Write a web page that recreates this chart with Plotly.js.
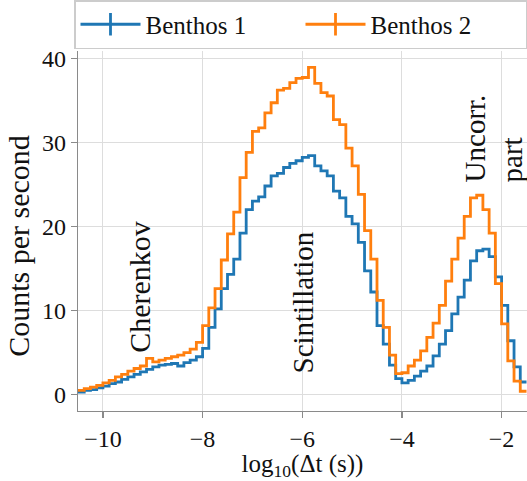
<!DOCTYPE html>
<html>
<head>
<meta charset="utf-8">
<script src="https://cdn.plot.ly/plotly-3.0.1.min.js"></script>
<style>
  html, body { margin: 0; padding: 0; background: #ffffff; }
  #chart { width: 527px; height: 481px; }
</style>
</head>
<body>
<div id="chart"></div>
<script>
// Histogram binning: 72 bins of width 0.125 in log10(Δt) starting at -10.5
const binStart = -10.5;
const binWidth = 0.125;

// Counts per second per bin
const benthos1 = [0.3,0.5,0.6,0.8,1.0,1.3,1.5,1.8,2.1,2.4,2.7,3.0,3.3,3.5,3.6,3.7,3.4,3.8,4.1,4.5,5.5,
  8.0,10.2,12.6,14.3,16.1,19.2,22.0,23.0,23.5,24.8,26.0,26.3,27.0,27.5,27.8,28.2,28.4,
  27.2,26.6,26.0,24.2,23.4,21.2,20.3,18.1,14.7,12.2,8.2,6.0,3.5,1.9,1.4,
  1.7,2.2,2.8,3.4,4.6,6.0,7.6,9.6,11.6,13.6,15.9,17.1,17.3,16.4,14.0,10.6,6.4,3.3,1.5];
const benthos2 = [0.5,0.7,0.9,1.1,1.4,1.7,2.1,2.4,2.8,3.1,3.4,4.3,3.9,4.1,4.3,4.5,4.7,5.0,
  5.4,6.2,8.2,10.3,12.6,16.0,19.1,21.7,25.8,28.8,31.3,31.7,33.5,34.7,36.2,36.4,37.1,37.6,37.7,38.9,
  37.0,35.9,35.5,32.7,32.1,29.3,27.2,23.8,19.5,16.1,11.2,8.0,4.7,2.5,2.6,
  3.4,4.1,5.2,6.8,8.5,10.6,13.5,16.1,18.6,21.2,23.4,23.7,22.0,19.2,13.2,8.4,4.0,1.6,0.4];

const seriesNames = ['Benthos 1', 'Benthos 2'];
const seriesColors = ['#1f77b4', '#ff7f0e'];
const xTicks = [-10, -8, -6, -4, -2];
const yTicks = [0, 10, 20, 30, 40];
const xTitle = 'log<sub>10</sub>(Δt (s))';
const yTitle = 'Counts per second';

// bin edges; last value repeated so the final step is drawn to the right edge
function edges(n) { const e = []; for (let i = 0; i <= n; i++) e.push(binStart + i * binWidth); return e; }
function stepY(v) { return v.concat([v[v.length - 1]]); }

const font = 'Liberation Serif';
const traces = [];
[benthos1, benthos2].forEach((vals, k) => {
  traces.push({
    x: edges(vals.length), y: stepY(vals), type: 'scatter', mode: 'lines',
    line: {shape: 'hv', color: seriesColors[k], width: 2.8},
    showlegend: false, hoverinfo: 'skip'
  });
});
// legend entries (errorbar-style symbol)
seriesNames.forEach((name, k) => {
  traces.push({
    x: [null], y: [null], type: 'scatter', mode: 'lines+markers', name: name,
    line: {color: seriesColors[k], width: 2.8},
    marker: {symbol: 'line-ns-open', size: 18, line: {color: seriesColors[k], width: 2.8}}
  });
});

const axisCommon = {
  showgrid: true, gridcolor: '#dddddd', gridwidth: 1,
  showline: true, linecolor: '#8a8a8a', linewidth: 1.2,
  ticks: 'outside', ticklen: 6, tickwidth: 1.2, tickcolor: '#8a8a8a',
  tickfont: {family: font, size: 24, color: '#111'},
  zeroline: false
};

const layout = {
  width: 527, height: 481,
  margin: {l: 78, r: 0, t: 50, b: 70},
  paper_bgcolor: '#ffffff', plot_bgcolor: '#ffffff',
  showlegend: true,
  xaxis: Object.assign({}, axisCommon, {
    range: [-10.5, -1.49], tickvals: xTicks,
    title: {text: xTitle, font: {family: font, size: 25, color: '#111'}, standoff: 12}
  }),
  yaxis: Object.assign({}, axisCommon, {
    range: [-1.95, 40.85], tickvals: yTicks
  }),
  legend: {
    orientation: 'h', x: 0.0, xanchor: 'left', y: 1.005, yanchor: 'bottom',
    bgcolor: '#ffffff', bordercolor: '#cccccc', borderwidth: 1.5,
    font: {family: font, size: 25, color: '#111'},
    entrywidth: 150, entrywidthmode: 'pixels', itemwidth: 60
  },
  annotations: [
    {x: -0.1314, y: 0.459, xref: 'paper', yref: 'paper', text: yTitle, textangle: -90, showarrow: false,
     xanchor: 'center', yanchor: 'middle', font: {family: font, size: 30, color: '#111'}},
    {x: -9.28, y: 4.7, xref: 'x', yref: 'y', text: 'Cherenkov', textangle: -90, showarrow: false,
     xanchor: 'center', yanchor: 'bottom', font: {family: font, size: 30, color: '#111'}},
    {x: -5.98, y: 2.3, xref: 'x', yref: 'y', text: 'Scintillation', textangle: -90, showarrow: false,
     xanchor: 'center', yanchor: 'bottom', font: {family: font, size: 29, color: '#111'}},
    {x: -2.15, y: 25.0, xref: 'x', yref: 'y', text: 'Uncorr.<br>part', textangle: -90, showarrow: false,
     align: 'left', xanchor: 'center', yanchor: 'bottom', font: {family: font, size: 29, color: '#111'}}
  ]
};

Plotly.newPlot('chart', traces, layout, {displayModeBar: false, staticPlot: true});
</script>
</body>
</html>
